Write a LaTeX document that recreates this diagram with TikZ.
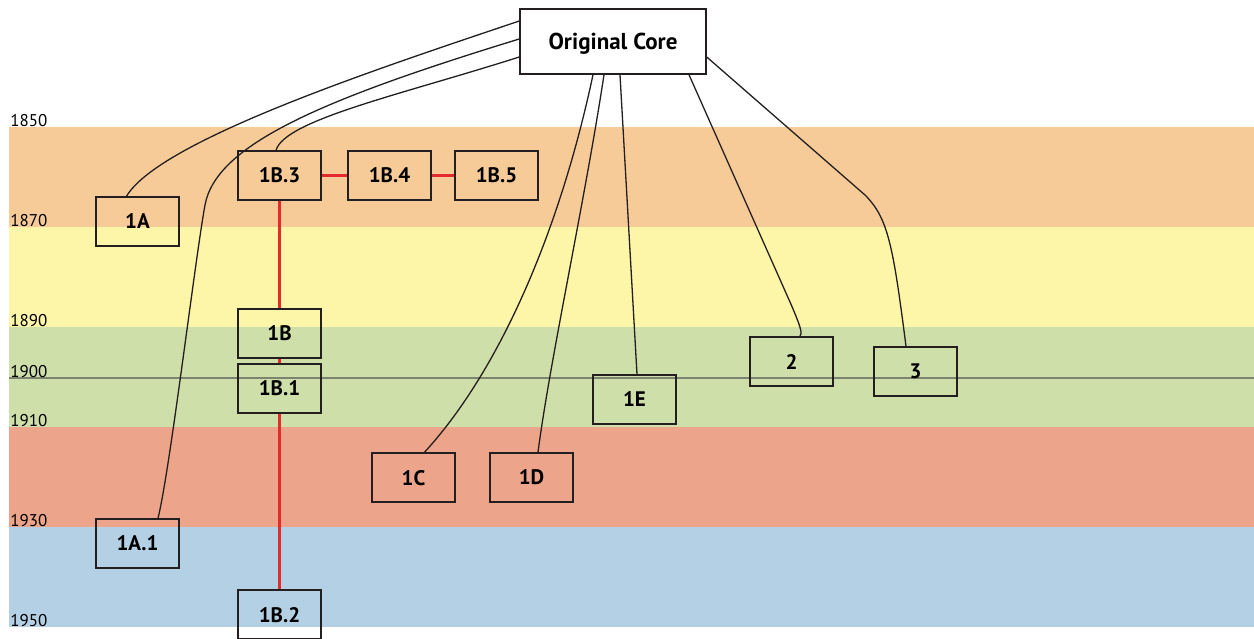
\documentclass[tikz,border=0pt]{standalone}
\usepackage{fontspec}
\setmainfont{PT Sans}
\usetikzlibrary{calc}

\definecolor{boxline}{HTML}{231F20}
\definecolor{linkred}{HTML}{E52A2D}
\definecolor{bandA}{HTML}{F7CB98}
\definecolor{bandB}{HTML}{FDF5A8}
\definecolor{bandC}{HTML}{CFDFA9}
\definecolor{bandD}{HTML}{ECA48A}
\definecolor{bandE}{HTML}{B3D0E4}
\definecolor{midline}{HTML}{7C8470}

\begin{document}
\begin{tikzpicture}[x=0.5pt, y=-0.5pt,
    box/.style={draw=boxline, line width=0.75pt, minimum width=41.5pt, minimum height=24.5pt,
                inner sep=0pt, text depth=0pt, font=\fontsize{10.5}{12}\selectfont\bfseries},
    link/.style={draw=boxline, line width=0.65pt},
    redlink/.style={draw=linkred, line width=1.1pt},
    year/.style={anchor=base west, inner sep=0pt, font=\fontsize{8.5}{10}\selectfont}]

	\useasboundingbox (0,0) rectangle (1254,638);
	\fill[white] (0,0) rectangle (1254,638);

	% time bands
	\foreach \c [count=\i from 0] in {bandA, bandB, bandC, bandD, bandE}
		\fill[\c] (9,127+100*\i) rectangle (1254,227+100*\i);
	\draw[midline, line width=0.7pt] (9,378) -- (1254,378);

	\foreach \yr/\yy in {1850/126, 1870/226, 1890/326, 1900/377, 1910/426, 1930/526, 1950/626}
		\node[year] (y\yr) at (10,\yy) {\yr};

	% boxes
	\node (core)[box, fill=white, minimum width=93pt, minimum height=32.5pt,
		font=\fontsize{11.5}{13}\selectfont\bfseries] at (613,41.5) {Original Core};

	\node (n1A)[box] at (137.5,221.5) {1A};
	\node (n1A1)[box] at (137.5,543.5) {1A.1};

	\node (n1B3)[box] at (279.5,175.5) {1B.3};
	\node (n1B4)[box] at (389.5,175.5) {1B.4};
	\node (n1B5)[box] at (496.5,175.5) {1B.5};
	\node (n1B)[box] at (279.5,333.5) {1B};
	\node (n1B1)[box] at (279.5,388.5) {1B.1};
	\node (n1B2)[box] at (279.5,614.5) {1B.2};

	\node (n1C)[box] at (413.5,477.5) {1C};
	\node (n1D)[box] at (531.5,477.5) {1D};
	\node (n1E)[box] at (634.5,399.5) {1E};

	\node (n2)[box] at (791.5,361.5) {2};
	\node (n3)[box] at (915.5,371.5) {3};

	% links from the core
	\draw[link] ($(core.west)+(0,-20.5)$) .. controls (380,68) and (160,140) .. ($(n1A.north)+(-11,0)$);
	\draw[link] ($(core.west)+(0,-2.5)$) .. controls (320,100) and (216,145) .. (205,205)
		.. controls (195,260) and (170,470) .. ($(n1A1.north)+(20.5,0)$);
	\draw[link] ($(core.west)+(0,15.5)$) .. controls (400,95) and (285,120) .. ($(n1B3.north)+(-3.5,0)$);

	\draw[link] ($(core.south)+(-20,0)$) .. controls (560,230) and (500,370) .. ($(n1C.north)+(11,0)$);
	\draw[link] ($(core.south)+(-9,0)$) .. controls (585,200) and (550,360) .. ($(n1D.north)+(6.5,0)$);
	\draw[link] ($(core.south)+(7,0)$) -- ($(n1E.north)+(2.5,0)$);

	\draw[link] ($(core.south)+(76,0)$) -- (790,302) .. controls (800,325) and (803,334) .. ($(n2.north)+(8.5,0)$);
	\draw[link] ($(core.east)+(0,15.5)$) -- (865,195) .. controls (888,218) and (893,245) .. ($(n3.north)+(-9.5,0)$);

	% red links
	\draw[redlink] (n1B3) -- (n1B4);
	\draw[redlink] (n1B4) -- (n1B5);
	\draw[redlink] (n1B3) -- (n1B);
	\draw[redlink] (n1B) -- (n1B1);
	\draw[redlink] (n1B1) -- (n1B2);
\end{tikzpicture}
\end{document}
